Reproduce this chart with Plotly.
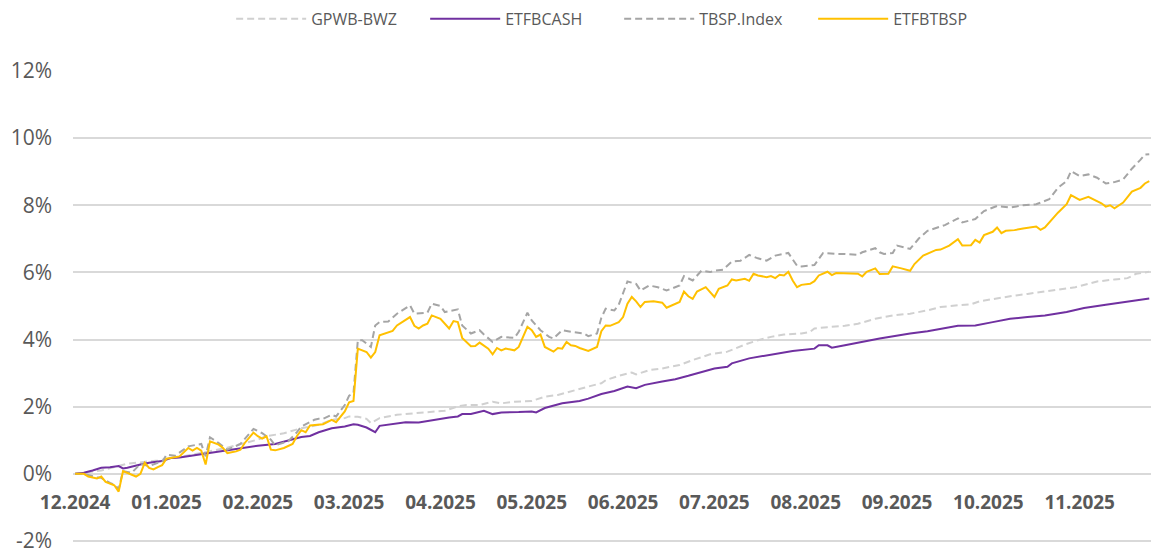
import plotly.graph_objects as go

# ---- data (values in %) ; x = trading-day index from start of 12.2024 ----
gpwb_day = [0, 6, 12, 19, 27, 35, 42, 44, 48, 52, 56, 59, 62, 63, 65, 67, 68, 70, 74, 79, 82, 85, 88, 90, 93, 95, 96, 98,
            101, 105, 108, 111, 115, 118, 121, 122, 125, 128, 129, 132, 135, 139, 142, 146, 150, 152, 154, 157, 160, 163,
            167, 169, 170, 173, 177, 180, 184, 188, 192, 196, 199, 203, 206, 208, 211, 215, 219, 222, 226, 230, 233, 235,
            239, 242, 244, 247]
gpwb_val = [0.00, 0.10, 0.30, 0.40, 0.57, 0.78, 1.02, 1.12, 1.21, 1.36, 1.46, 1.61, 1.66, 1.71, 1.70, 1.64, 1.51, 1.66,
            1.76, 1.81, 1.84, 1.88, 2.01, 2.05, 2.05, 2.13, 2.15, 2.10, 2.15, 2.17, 2.30, 2.35, 2.50, 2.60, 2.70, 2.79,
            2.92, 3.02, 2.96, 3.09, 3.14, 3.24, 3.39, 3.56, 3.64, 3.75, 3.85, 3.98, 4.08, 4.15, 4.18, 4.23, 4.33, 4.37,
            4.41, 4.47, 4.62, 4.72, 4.77, 4.87, 4.97, 5.02, 5.05, 5.14, 5.21, 5.29, 5.36, 5.41, 5.49, 5.56, 5.66, 5.73,
            5.79, 5.83, 5.96, 6.02]

cash_day = [0, 2, 4, 6, 8, 10, 11, 12, 15, 17, 20, 22, 24, 27, 30, 34, 38, 42, 46, 50, 52, 54, 56, 59, 62, 64, 65, 67,
            69, 70, 73, 76, 79, 82, 86, 88, 89, 91, 94, 96, 98, 102, 105, 106, 108, 112, 116, 118, 121, 124, 127, 129,
            131, 135, 138, 141, 144, 147, 150, 151, 155, 159, 162, 165, 170, 171, 173, 174, 177, 181, 185, 192, 196,
            203, 207, 211, 215, 219, 223, 228, 232, 237, 242, 247]
cash_val = [0.00, 0.03, 0.10, 0.18, 0.20, 0.23, 0.16, 0.18, 0.28, 0.33, 0.38, 0.47, 0.49, 0.55, 0.62, 0.69, 0.77, 0.84,
            0.89, 1.02, 1.10, 1.13, 1.24, 1.36, 1.41, 1.48, 1.46, 1.38, 1.24, 1.43, 1.48, 1.54, 1.53, 1.60, 1.68, 1.71,
            1.78, 1.78, 1.88, 1.78, 1.83, 1.84, 1.86, 1.83, 1.96, 2.10, 2.17, 2.24, 2.38, 2.47, 2.60, 2.55, 2.65, 2.75,
            2.82, 2.92, 3.04, 3.14, 3.19, 3.29, 3.44, 3.53, 3.61, 3.66, 3.73, 3.83, 3.83, 3.76, 3.83, 3.93, 4.03, 4.18,
            4.25, 4.41, 4.42, 4.52, 4.62, 4.67, 4.72, 4.82, 4.94, 5.04, 5.12, 5.22]

index_day = [0, 2, 5, 6, 8, 9, 10, 11, 13, 15, 17, 19, 20, 21, 23, 26, 29, 30, 31, 33, 35, 38, 41, 43, 44, 45, 46, 49,
             51, 52, 55, 56, 57, 59, 60, 62, 63, 64, 65, 66, 68, 69, 70, 72, 74, 77, 78, 81, 82, 84, 85, 87, 88, 89, 91,
             93, 94, 96, 98, 101, 102, 104, 105, 107, 109, 110, 112, 114, 117, 118, 120, 121, 122, 124, 125, 127, 129,
             130, 132, 134, 136, 139, 140, 142, 144, 146, 147, 149, 151, 153, 155, 157, 159, 161, 164, 166, 167, 170,
             171, 172, 175, 177, 180, 181, 184, 185, 186, 188, 189, 192, 194, 196, 200, 203, 204, 207, 209, 212, 215,
             218, 221, 224, 226, 228, 229, 231, 233, 235, 237, 239, 241, 243, 245, 246, 247]
index_val = [0.00, 0.00, -0.10, -0.12, -0.27, -0.32, -0.45, 0.08, 0.03, 0.30, 0.23, 0.33, 0.35, 0.57, 0.54, 0.82, 0.89,
             0.52, 1.09, 0.92, 0.72, 0.89, 1.34, 1.21, 1.12, 1.02, 0.85, 0.97, 1.24, 1.41, 1.61, 1.64, 1.64, 1.76, 1.71,
             2.05, 2.33, 2.40, 3.98, 3.98, 3.78, 4.42, 4.52, 4.54, 4.77, 5.02, 4.77, 4.80, 5.07, 5.00, 4.82, 4.87, 4.90,
             4.42, 4.18, 4.28, 4.15, 3.93, 4.08, 4.05, 4.23, 4.80, 4.57, 4.28, 4.08, 4.03, 4.28, 4.23, 4.18, 4.10, 4.18,
             4.65, 4.92, 4.87, 5.04, 5.73, 5.66, 5.46, 5.61, 5.56, 5.46, 5.61, 5.89, 5.76, 6.05, 6.01, 6.05, 6.08, 6.32,
             6.35, 6.52, 6.42, 6.35, 6.50, 6.58, 6.20, 6.18, 6.22, 6.40, 6.58, 6.55, 6.55, 6.52, 6.60, 6.72, 6.60, 6.55,
             6.58, 6.80, 6.70, 7.01, 7.24, 7.41, 7.61, 7.49, 7.59, 7.83, 7.98, 7.93, 8.00, 8.03, 8.18, 8.52, 8.72, 9.02,
             8.87, 8.92, 8.82, 8.65, 8.69, 8.77, 9.09, 9.36, 9.51, 9.52]

etf_day = [0, 2, 3, 5, 6, 7, 9, 10, 11, 13, 14, 15, 16, 17, 18, 19, 20, 21, 23, 24, 26, 27, 28, 29, 30, 31, 33, 34, 35,
           37, 38, 39, 41, 42, 43, 44, 45, 46, 48, 50, 51, 52, 53, 54, 57, 59, 60, 62, 63, 64, 65, 66, 67, 68, 69, 70,
           72, 73, 74, 77, 78, 79, 80, 81, 82, 84, 86, 87, 88, 89, 91, 92, 93, 95, 96, 97, 98, 99, 101, 102, 104, 105,
           106, 107, 108, 110, 111, 112, 113, 114, 115, 116, 118, 120, 121, 122, 123, 125, 126, 127, 128, 129, 130, 131,
           133, 135, 136, 139, 140, 141, 142, 143, 145, 146, 147, 148, 149, 150, 151, 152, 154, 155, 156, 157, 159, 160,
           161, 162, 163, 164, 165, 166, 167, 169, 170, 171, 173, 174, 175, 177, 179, 180, 181, 182, 184, 185, 187, 188,
           190, 192, 193, 195, 198, 199, 201, 203, 204, 206, 207, 208, 209, 211, 212, 213, 214, 216, 218, 221, 222, 223,
           226, 227, 228, 229, 231, 233, 236, 237, 238, 239, 241, 243, 245, 246, 247]
etf_val = [0.00, 0.00, -0.08, -0.14, -0.08, -0.24, -0.34, -0.53, 0.08, -0.04, -0.08, 0.00, 0.33, 0.18, 0.13, 0.20, 0.26,
           0.45, 0.49, 0.52, 0.77, 0.69, 0.77, 0.69, 0.28, 0.97, 0.87, 0.77, 0.62, 0.67, 0.72, 0.92, 1.23, 1.12, 1.05,
           1.12, 0.72, 0.70, 0.77, 0.89, 1.13, 1.30, 1.24, 1.44, 1.48, 1.61, 1.54, 1.86, 2.13, 2.17, 3.73, 3.68, 3.63,
           3.46, 3.63, 4.13, 4.23, 4.26, 4.42, 4.67, 4.41, 4.33, 4.42, 4.47, 4.72, 4.62, 4.33, 4.55, 4.52, 4.05, 3.80,
           3.81, 3.91, 3.73, 3.56, 3.75, 3.68, 3.73, 3.68, 3.78, 4.38, 4.28, 4.08, 4.15, 3.78, 3.64, 3.75, 3.73, 3.93,
           3.83, 3.81, 3.75, 3.66, 3.78, 4.25, 4.42, 4.41, 4.52, 4.67, 5.07, 5.27, 5.14, 4.97, 5.12, 5.14, 5.10, 4.95,
           5.12, 5.43, 5.29, 5.21, 5.43, 5.56, 5.43, 5.27, 5.51, 5.56, 5.61, 5.79, 5.76, 5.81, 5.75, 5.96, 5.91, 5.86,
           5.89, 5.83, 5.93, 5.91, 6.02, 5.76, 5.56, 5.63, 5.66, 5.74, 5.91, 6.02, 5.92, 5.98, 5.98, 5.98, 5.96, 5.88,
           6.02, 6.12, 5.95, 5.96, 6.18, 6.12, 6.05, 6.25, 6.50, 6.67, 6.68, 6.80, 6.99, 6.80, 6.81, 6.97, 6.89, 7.11,
           7.21, 7.34, 7.17, 7.24, 7.26, 7.31, 7.37, 7.27, 7.34, 7.78, 7.90, 8.03, 8.30, 8.16, 8.25, 8.06, 7.96, 8.00,
           7.91, 8.08, 8.41, 8.52, 8.65, 8.72]

month_labels = ["12.2024", "01.2025", "02.2025", "03.2025", "04.2025", "05.2025",
                "06.2025", "07.2025", "08.2025", "09.2025", "10.2025", "11.2025"]
month_day = [0, 21, 42, 63, 84, 105, 126, 147, 168, 189, 210, 231]
y_ticks = [-2, 0, 2, 4, 6, 8, 10, 12]
y_tick_text = ["-2%", "0%", "2%", "4%", "6%", "8%", "10%", "12%"]

for d, v in [(gpwb_day, gpwb_val), (cash_day, cash_val), (index_day, index_val), (etf_day, etf_val)]:
    assert len(d) == len(v), (len(d), len(v))

series = [
    ("GPWB-BWZ", gpwb_day, gpwb_val, "#d0d0d0", "7px,4px"),
    ("ETFBCASH", cash_day, cash_val, "#7030a0", "solid"),
    ("TBSP.Index", index_day, index_val, "#a5a5a5", "7px,4px"),
    ("ETFBTBSP", etf_day, etf_val, "#ffc000", "solid"),
]

fig = go.Figure()
for name, d, v, col, dash in series:
    fig.add_trace(go.Scatter(x=d, y=v, mode="lines", name=name,
                             line=dict(color=col, width=2, dash=dash)))

y_min, y_max = -2.03, 12
fig.update_layout(
    width=1153, height=552,
    margin=dict(l=73, r=2, t=71, b=10, autoexpand=False),
    paper_bgcolor="white", plot_bgcolor="white",
    showlegend=True,
    legend=dict(orientation="h", xref="container", yref="container",
                x=0.537, y=0.966, xanchor="center", yanchor="middle",
                font=dict(family="Open Sans", size=16, color="#595959"),
                entrywidth=109, itemwidth=70, bgcolor="rgba(0,0,0,0)"),
    font=dict(family="Open Sans", color="#595959"),
)
fig.update_xaxes(
    range=[-0.5, 247.4], anchor="free", position=(0 - y_min) / (y_max - y_min),
    showgrid=False, zeroline=False, showline=False,
    tickmode="array", tickvals=month_day, ticktext=month_labels,
    tickfont=dict(family="Open Sans", size=19, color="#595959", weight="bold"),
    ticks="", ticklabelstandoff=15,
)
fig.update_yaxes(
    range=[y_min, y_max], showgrid=True, gridcolor="#d9d9d9", gridwidth=1.5,
    zeroline=True, zerolinecolor="#d9d9d9", zerolinewidth=1.5, showline=False,
    tickmode="array", tickvals=y_ticks, ticktext=y_tick_text,
    tickfont=dict(family="Open Sans", size=21, color="#595959"),
    ticks="", ticklabelstandoff=20, ticklabeloverflow="allow",
)

# remove the default page margin so the 1153x552 figure fills the window exactly
fig.write_html("out.html", config={"displayModeBar": False},
               post_script="document.body.style.margin='0';document.body.style.overflow='hidden';")
